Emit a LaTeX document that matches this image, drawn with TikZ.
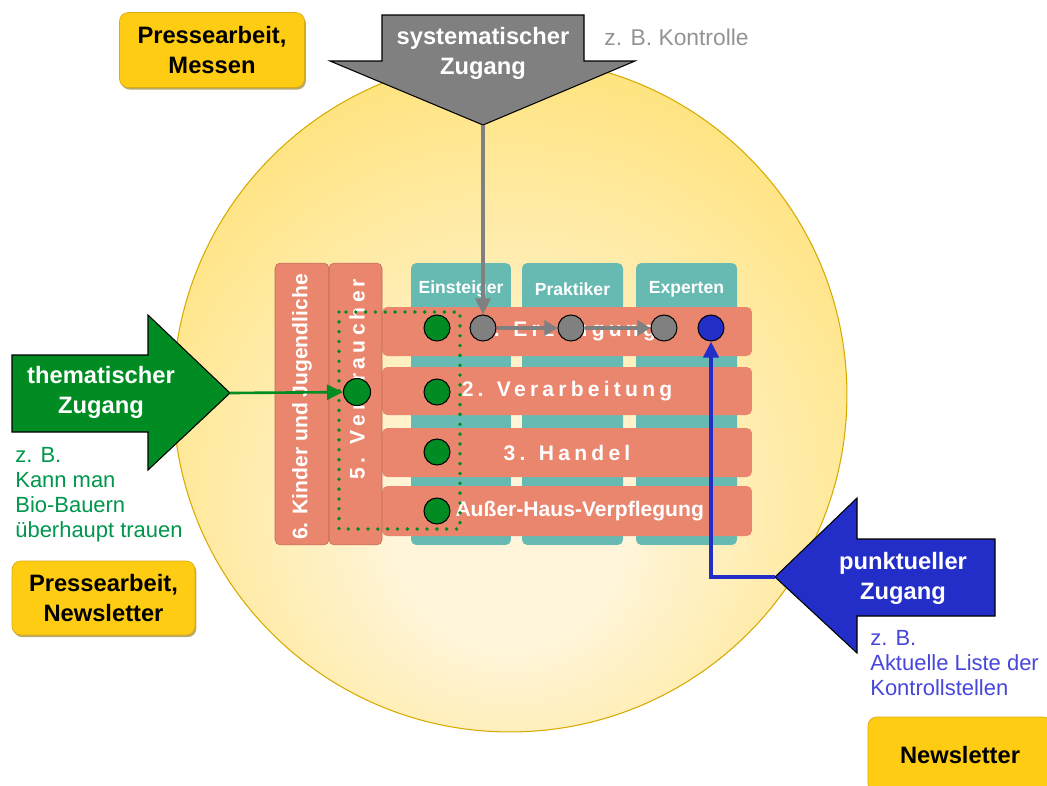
\documentclass[tikz,border=0pt]{standalone}
\usepackage{fontspec}
\setmainfont{Liberation Sans}
\usepackage{xcolor}
\usepackage{tikz}
\usetikzlibrary{arrows.meta,positioning,calc,shadows}
\definecolor{pressgelb}{RGB}{255,204,20}
\definecolor{sysgrau}{RGB}{128,128,128}
\definecolor{themgruen}{RGB}{0,140,35}
\definecolor{bspgruen}{RGB}{0,150,75}
\definecolor{punktblau}{RGB}{35,45,200}
\definecolor{bspblau}{RGB}{70,70,220}
\definecolor{lachs}{RGB}{234,134,110}
\definecolor{petrol}{RGB}{102,186,178}
\definecolor{sonneinnen}{RGB}{255,245,218}
\definecolor{sonneaussen}{RGB}{255,218,80}
\definecolor{sonnerand}{RGB}{215,170,0}
\pgfdeclareradialshading{sonne}{\pgfpoint{0bp}{-12bp}}{color(0bp)=(sonneinnen); color(8bp)=(sonneinnen); color(44bp)=(sonneaussen); color(70bp)=(sonneaussen)}
\tikzset{
  press/.style={draw=pressgelb!85!black, fill=pressgelb, rounded corners=5pt, align=center, inner sep=0pt,
    font=\bfseries\fontsize{13.5}{17}\selectfont,
    drop shadow={shadow xshift=0.8pt, shadow yshift=-1.2pt, fill=pressgelb!55!black, opacity=0.6}},
  pfeil/.style={draw=black, line width=0.6pt},
  pfeiltext/.style={text=white, align=center, font=\bfseries\fontsize{13.5}{17}\selectfont},
  beispiel/.style={align=left, inner sep=0pt, font=\fontsize{12.5}{14.2}\selectfont},
  zeile/.style={fill=lachs, rounded corners=3pt, inner sep=0pt, text=white, font=\bfseries\fontsize{12}{14}\selectfont},
  spalte/.style={fill=petrol, rounded corners=3pt, inner sep=0pt, minimum height=5.64cm},
  kopf/.style={text=white, font=\bfseries\fontsize{10}{12}\selectfont},
  gesperrt/.style={font=\bfseries\fontsize{12}{14}\selectfont\addfontfeature{LetterSpace=20}},
  punkt/.style={circle, draw=black, line width=0.6pt, minimum size=0.52cm, inner sep=0pt},
  fluss/.style={-{Triangle[length=0.26cm,width=0.3cm]}, line width=2.6pt, draw=sysgrau},
  zugang/.style={-{Triangle[length=0.32cm,width=0.3cm]}, line width=1.8pt},
}
\begin{document}
\begin{tikzpicture}[x=0.02cm, y=-0.02cm]
\useasboundingbox (0,0) rectangle (1047,785);
\clip (0,0) rectangle (1047,785);
\shadedraw[shading=sonne, draw=sonnerand, line width=0.6pt] (510,395) circle [radius=6.74cm];

\node[spalte, minimum width=2cm] (einst) at (461,404) {};
\node[spalte, minimum width=2.02cm] (prakt) at (572.5,404) {};
\node[spalte, minimum width=2.02cm] (exp) at (686.5,404) {};
\node[kopf] (einsttxt) at (461,289) {Einsteiger};
\node[kopf] (prakttxt) at (572.5,289) {Praktiker};
\node[kopf] (exptxt) at (686.5,289) {Experten};

\node[zeile, gesperrt, minimum width=7.4cm, minimum height=0.98cm] (erz) at (567,331.5) {1. Erzeugung};
\node[zeile, gesperrt, minimum width=7.4cm, minimum height=0.96cm] (verarb) at (567,391) {2. Verarbeitung};
\node[zeile, gesperrt, minimum width=7.4cm, minimum height=0.98cm] (handel) at (567,452.5) {3. Handel};
\node[zeile, minimum width=7.4cm, minimum height=1cm] (ahv) at (567,511) {4. Außer-Haus-Verpflegung};

\node[zeile, draw=lachs!80!black, line width=0.3pt, minimum width=1.08cm, minimum height=5.64cm] (kinder) at (302,404) {};
\node[zeile, draw=lachs!80!black, line width=0.3pt, minimum width=1.06cm, minimum height=5.64cm] (verbr) at (355.5,404) {};
\node[rotate=90, text=white, font=\bfseries\fontsize{12}{14}\selectfont] (kindertxt) at (302,407) {6. Kinder und Jugendliche};
\node[rotate=90, text=white, gesperrt] (verbrtxt) at (357,379) {5. Verbraucher};

\draw[themgruen, line width=2.2pt, line cap=round, dash pattern=on 0pt off 5.6pt] (339,312) rectangle (460,529);

\foreach \y/\n in {328/g1, 392/g2, 452/g3, 511/g4}
  \node[punkt, fill=themgruen] (\n) at (437,\y) {};
\node[punkt, fill=themgruen, minimum size=0.54cm] (gv) at (357,392) {};
\node[punkt, fill=sysgrau] (s1) at (483,328) {};
\node[punkt, fill=sysgrau] (s2) at (571,328) {};
\node[punkt, fill=sysgrau] (s3) at (664,328) {};
\node[punkt, fill=punktblau] (b1) at (711,328) {};
\draw[fluss] (s1) -- (s2);
\draw[fluss] (s2) -- (s3);

\draw[pfeil, fill=sysgrau] (382,15) -- (584,15) -- (584,61) -- (635,61) -- (483,125) -- (330,61) -- (382,61) -- cycle;
\coordinate (systip) at (483,125);
\node[pfeiltext] (syst) at (483,53) {systematischer\\Zugang};
\draw[zugang, sysgrau] (systip) -- (s1);

\draw[pfeil, fill=themgruen] (12,355) -- (148,355) -- (148,315) -- (230,393) -- (148,470) -- (148,432) -- (12,432) -- cycle;
\coordinate (themtip) at (230,393);
\node[pfeiltext] (them) at (101,392) {thematischer\\Zugang};
\draw[zugang, themgruen, line width=1.5pt] (themtip) -- (gv);

\draw[pfeil, fill=punktblau] (995,539) -- (857,539) -- (857,498) -- (775,577) -- (857,653) -- (857,616) -- (995,616) -- cycle;
\coordinate (punkttip) at (775,577);
\node[pfeiltext] (punktz) at (903,578) {punktueller\\Zugang};
\draw[zugang, punktblau, line width=2.2pt] (punkttip) -| (b1);

\node[beispiel, text=sysgrau!85, anchor=west, font=\fontsize{13}{15}\selectfont] (kontr) at (604,37) {z. B. Kontrolle};
\node[beispiel, text=bspgruen, anchor=north west] (thembsp) at (15,447) {z. B.\\Kann man\\Bio-Bauern\\überhaupt trauen};
\node[beispiel, text=bspblau, anchor=north west] (punktbsp) at (870,630) {z. B.\\Aktuelle Liste der\\Kontrollstellen};

\node[press, minimum width=3.7cm, minimum height=1.5cm] (messen) at (212,50) {Pressearbeit,\\Messen};
\node[press, minimum width=3.66cm, minimum height=1.48cm] (pressnews) at (103.5,598) {Pressearbeit,\\Newsletter};
\node[press, minimum width=3.68cm, minimum height=1.52cm] (news) at (960,755) {Newsletter};
\end{tikzpicture}
\end{document}
